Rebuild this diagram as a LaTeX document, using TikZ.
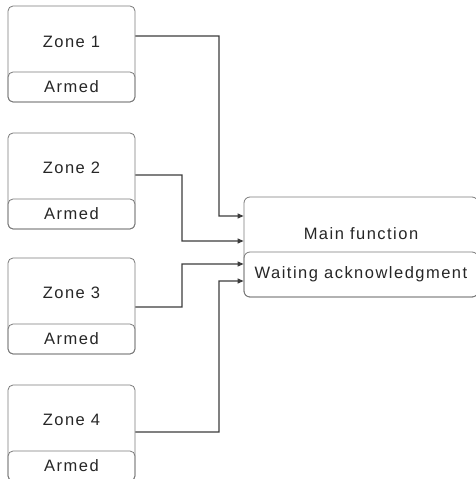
\documentclass[tikz,border=0pt]{standalone}
\usepackage{fontspec}
\setmainfont{Liberation Sans}[LetterSpace=9]
\usepackage{tikz}
\usetikzlibrary{arrows.meta,positioning}
\definecolor{boxgray}{HTML}{7A7A7A}
\definecolor{linegray}{HTML}{3C3C3C}

\begin{document}
\begin{tikzpicture}[
  x=1bp, y=-1bp,
  >={Triangle[length=6bp,width=5bp]},
  every node/.style={font=\fontsize{16.5bp}{19bp}\selectfont, text=black!85},
  zone/.style={draw=boxgray, line width=0.8bp, rounded corners=5bp, minimum width=127bp, minimum height=96bp, inner sep=0pt},
  armed/.style={draw=boxgray, line width=0.8bp, rounded corners=5bp, minimum width=127bp, minimum height=30bp, inner sep=0pt, anchor=south},
  mainbox/.style={draw=boxgray, line width=0.8bp, rounded corners=6bp, minimum width=234bp, minimum height=100bp, inner sep=0pt},
  waitbox/.style={draw=boxgray, line width=0.8bp, rounded corners=6bp, minimum width=234bp, minimum height=45bp, inner sep=0pt, anchor=south},
  link/.style={draw=linegray, line width=1.1bp, ->}
]
\useasboundingbox (0,0) rectangle (476,479);

% zones
\node[zone] (z1) at (71.5,54) {};
\node[armed] (a1) at (z1.south) {Armed};
\node (t1) at ([yshift=-36bp]z1.north) {Zone 1};

\node[zone] (z2) at (71.5,181) {};
\node[armed] (a2) at (z2.south) {Armed};
\node (t2) at ([yshift=-35bp]z2.north) {Zone 2};

\node[zone] (z3) at (71.5,306) {};
\node[armed] (a3) at (z3.south) {Armed};
\node (t3) at ([yshift=-35bp]z3.north) {Zone 3};

\node[zone] (z4) at (71.5,433) {};
\node[armed] (a4) at (z4.south) {Armed};
\node (t4) at ([yshift=-35bp]z4.north) {Zone 4};

% main function
\node[mainbox] (main) at (361,247) {};
\node[waitbox] (wait) at (main.south) {Waiting acknowledgment};
\node (mf) at ([yshift=-37bp]main.north) {Main function};

% connectors
\draw[link] ([yshift=18bp]z1.east) -| (219,216) -- ([yshift=31bp]main.west);
\draw[link] ([yshift=6bp]z2.east) -| (182,241) -- ([yshift=6bp]main.west);
\draw[link] ([yshift=-1bp]z3.east) -| (182,264) -- ([yshift=-17bp]main.west);
\draw[link] ([yshift=1bp]z4.east) -| (219,281) -- ([yshift=-34bp]main.west);
\end{tikzpicture}
\end{document}
